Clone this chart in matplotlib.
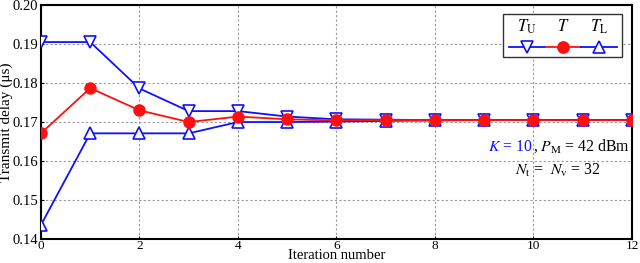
import numpy as np
import matplotlib.pyplot as plt
from matplotlib.lines import Line2D
from matplotlib.patches import Rectangle

plt.rcParams['font.family'] = ['Liberation Serif', 'DejaVu Serif']
plt.rcParams['mathtext.fontset'] = 'stix'

# Data
iterations = np.arange(13)
t_upper = [0.1905, 0.1905, 0.1786, 0.1728, 0.1728, 0.1714, 0.1707, 0.1706, 0.1705,
           0.1705, 0.1705, 0.1705, 0.1705]
t_delay = [0.1671, 0.1787, 0.1730, 0.1700, 0.1714, 0.1707, 0.1704, 0.1705, 0.1705,
           0.1705, 0.1705, 0.1705, 0.1705]
t_lower = [0.1436, 0.1671, 0.1671, 0.1671, 0.1700, 0.1700, 0.1701, 0.1703, 0.1704,
           0.1705, 0.1705, 0.1705, 0.1705]
xticks = [0, 2, 4, 6, 8, 10, 12]
yticks = [0.14, 0.15, 0.16, 0.17, 0.18, 0.19, 0.20]

fig = plt.figure(figsize=(6.4, 2.63), dpi=100)
ax = fig.add_axes([0.064, 0.091, 0.9235, 0.89])

ax.plot(iterations, t_upper, color='#1010ff', lw=1.3, marker='v', ms=8,
        mfc='white', mec='#1010ff', mew=1.2, zorder=3)
ax.plot(iterations, t_lower, color='#1010ff', lw=1.3, marker='^', ms=8,
        mfc='white', mec='#1010ff', mew=1.2, zorder=3)
ax.plot(iterations, t_delay, color='#ff1010', lw=1.3, marker='o', ms=8,
        mfc='#ff1010', mec='#ff1010', zorder=4)

ax.set_xlim(0, 12)
ax.set_ylim(0.14, 0.20)
ax.set_xticks(xticks)
ax.set_yticks(yticks)
ax.set_yticklabels(['%.2f' % v for v in yticks])
ax.tick_params(labelsize=10.5, length=2, direction='in', pad=2)
ax.tick_params(axis='x', labelsize=9.5, pad=1)
ax.grid(True, color='#999999', ls=(0, (2, 2)), lw=0.8)
for sp in ax.spines.values():
    sp.set_linewidth(1.5)

ax.set_xlabel('Iteration number', fontsize=10.5, va='bottom')
ax.xaxis.set_label_coords(0.5, -0.1)
ax.set_ylabel('Transmit delay (\u03bcs)', fontsize=11)
ax.yaxis.set_label_coords(-0.047, 0.5)

# legend drawn by hand: labels above the symbols
ax.add_patch(Rectangle((0.782, 0.778), 0.201, 0.184, transform=ax.transAxes,
                       facecolor='white', edgecolor='#333333', lw=1.0, zorder=10))
legend_items = [('$T_{\\mathrm{U}}$', 'v', '#1010ff', 'white', 0.822),
                ('$T$', 'o', '#ff1010', '#ff1010', 0.884),
                ('$T_{\\mathrm{L}}$', '^', '#1010ff', 'white', 0.944)]
for label, mk, col, face, xc in legend_items:
    ax.add_line(Line2D([xc - 0.03, xc + 0.03], [0.82, 0.82], transform=ax.transAxes,
                       color=col, lw=1.3, zorder=11))
    ax.add_line(Line2D([xc], [0.82], transform=ax.transAxes, marker=mk, ms=8,
                       mfc=face, mec=col, mew=1.2, zorder=12))
    ax.text(xc, 0.905, label, transform=ax.transAxes, ha='center', va='center',
            fontsize=12, zorder=12)

t1 = ax.text(9.08, 0.1636, '$K$ = 10', color='#1010ff', fontsize=11.3,
             ha='left', va='center', zorder=6)
ax.annotate(', $P_{\\mathrm{M}}$ = 42 dBm', xy=(1, 0), xycoords=t1, ha='left',
            va='bottom', fontsize=11.3, zorder=6)
ax.text(10.5, 0.1575, '$N_{\\mathrm{t}}$ =  $N_{\\mathrm{v}}$ = 32', fontsize=11.3,
        ha='center', va='center', zorder=6)

fig.savefig('out.png', dpi=100)
